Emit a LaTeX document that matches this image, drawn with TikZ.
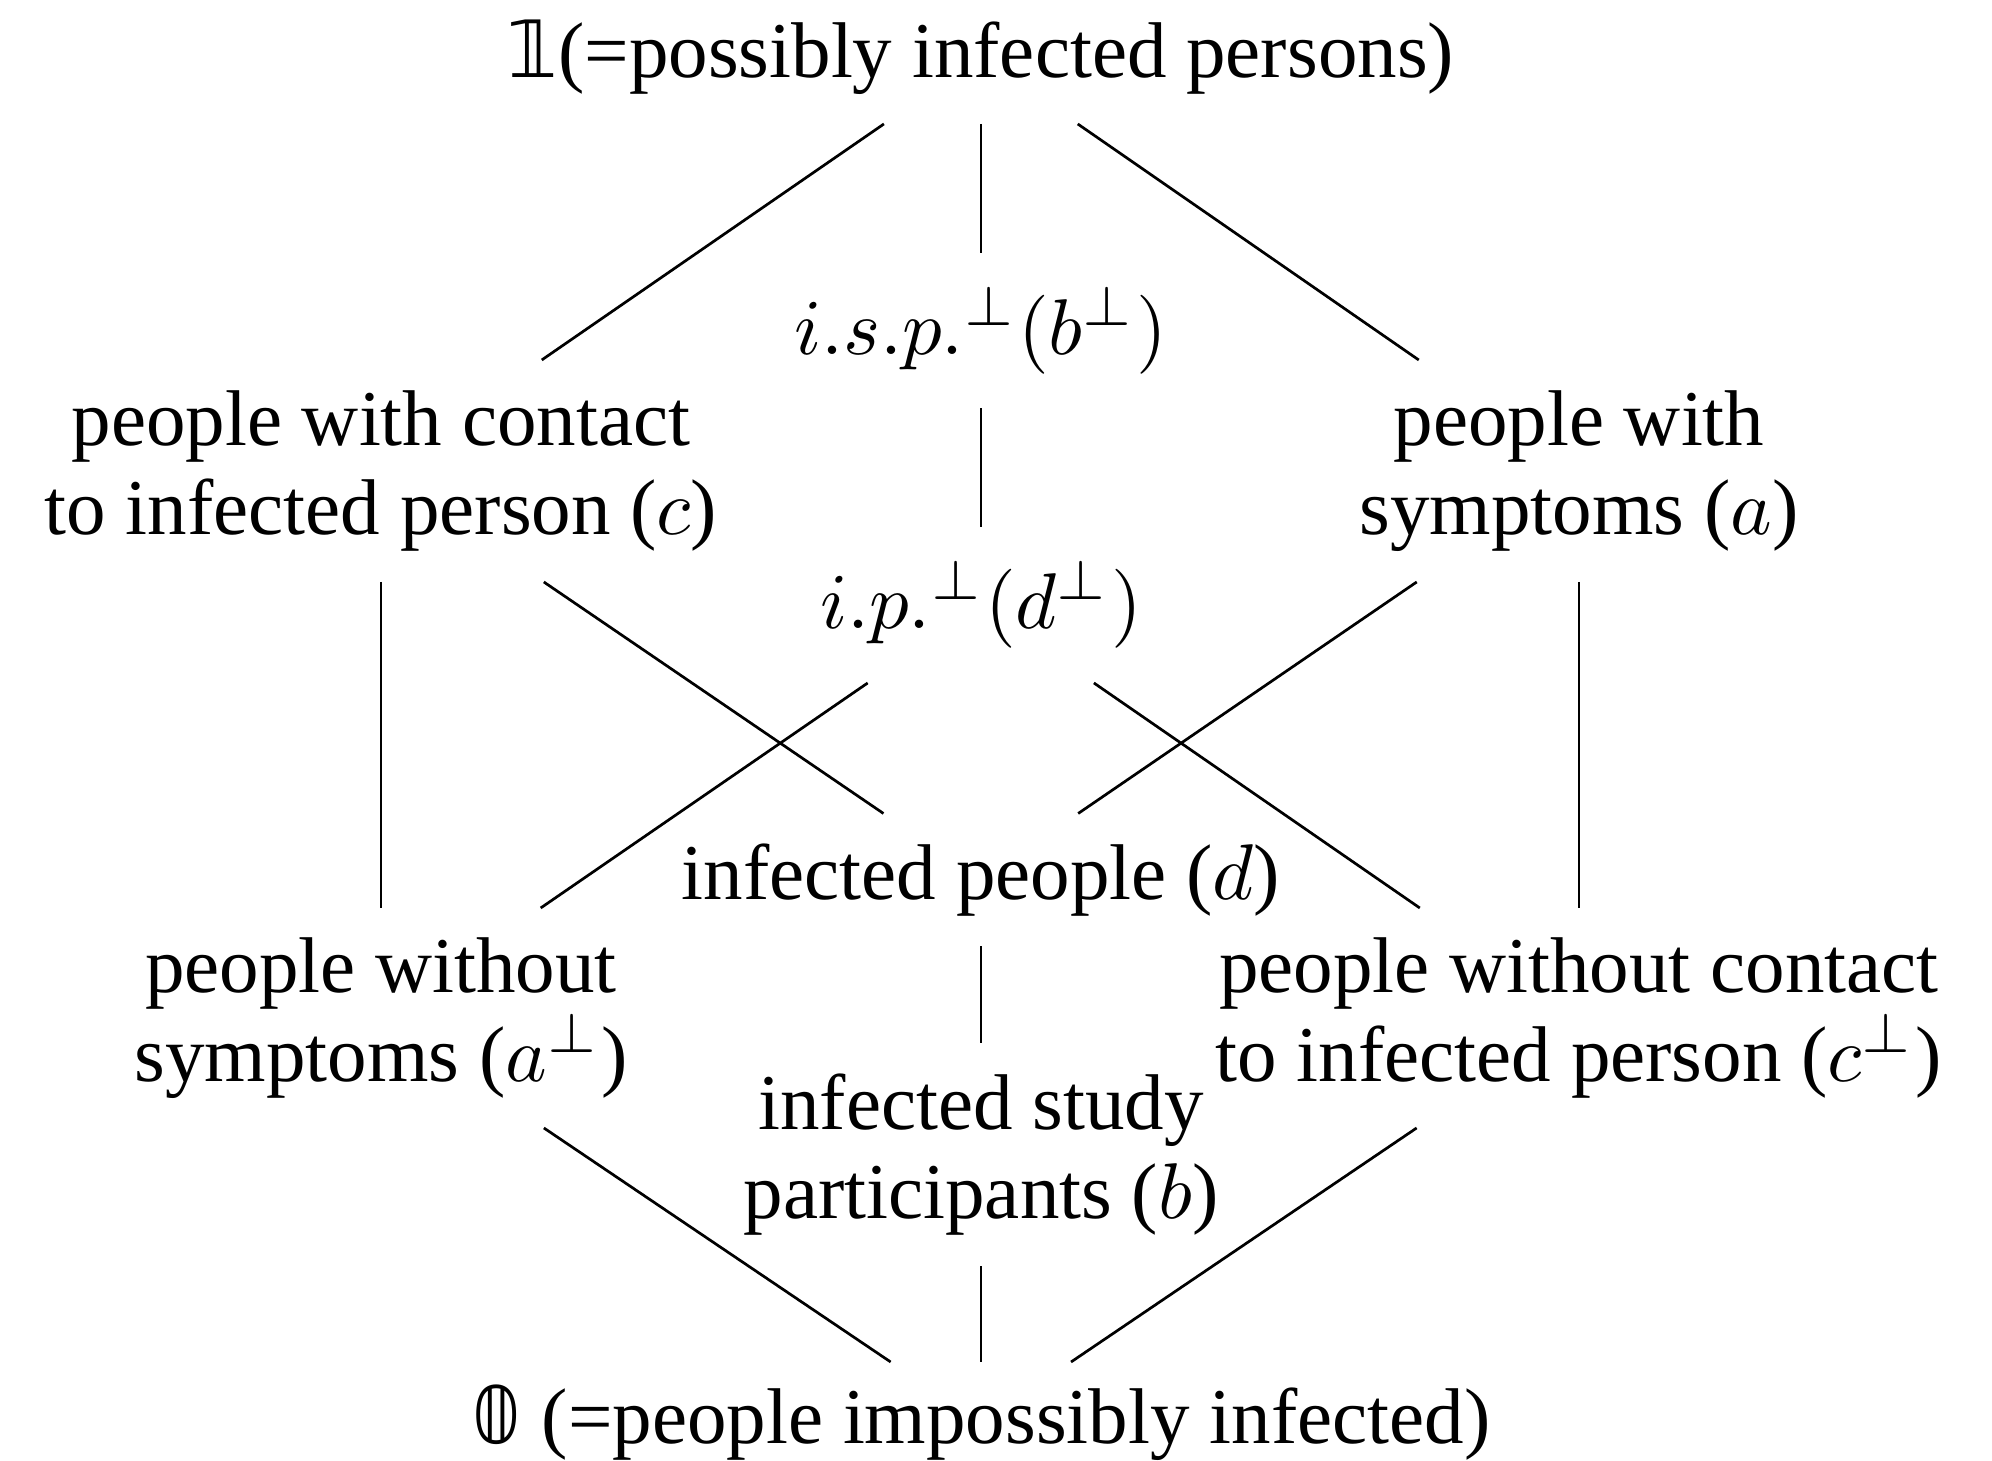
\RequirePackage{fix-cm}
\documentclass[tikz,border=0pt]{standalone}
\usepackage[no-math]{fontspec}
\setmainfont{Liberation Serif}
\newfontfamily\dsfamily{DejaVu Sans}
% formulas use the 10pt and 7pt Computer Modern designs, scaled
\DeclareFontShape{OML}{cmm}{m}{it}{<-6.5> cmmi7 <6.5-> cmmi10}{}
\DeclareFontShape{OMS}{cmsy}{m}{n}{<-6.5> cmsy7 <6.5-> cmsy10}{}
\DeclareFontShape{OT1}{cmr}{m}{n}{<-6.5> cmr7 <6.5-> cmr10}{}
\DeclareMathSizes{7.9}{7.9}{5.5}{4.4}
\newcommand\lblfont{\fontsize{7.9}{8.9}\selectfont}
\begin{document}
\begin{tikzpicture}[x=0.1pt,y=-0.1pt,
    lbl/.style={inner sep=0pt, outer sep=0pt, align=center, font=\lblfont},
    edge/.style={line width=0.27pt}]
  \useasboundingbox (0,0) rectangle (1992,1461);
  % lattice elements
  \node[lbl, minimum height=13.4pt] (one)  at (981,57)   {{\dsfamily 𝟙}(=possibly infected persons)};
  \node[lbl, minimum height=15.5pt] (isp)  at (981,331)  {$i.s.p.^{\perp}(b^{\perp})$};
  \node[lbl, minimum height=22.2pt] (c)    at (381,471)  {people with contact\\to infected person ($c$)};
  \node[lbl, minimum height=22.2pt] (a)    at (1579,471) {people with\\symptoms ($a$)};
  \node[lbl, minimum height=15.6pt] (ip)   at (981,605)  {$i.p.^{\perp}(d^{\perp})$};
  \node[lbl, minimum height=13.3pt] (d)    at (981,880)  {infected people ($d$)};
  \node[lbl, minimum height=22.0pt] (na)   at (381,1018) {people without\\symptoms ($a^{\perp}$)};
  \node[lbl, minimum height=22.0pt] (nc)   at (1579,1018) {people without contact\\to infected person ($c^{\perp}$)};
  \node[lbl, minimum height=22.3pt] (b)    at (981,1155) {infected study\\participants ($b$)};
  \node[lbl, minimum height=12.2pt] (zero) at (981,1423) {{\dsfamily 𝟘} (=people impossibly infected)};
  % order relations
  \draw[edge] (one) -- (c);
  \draw[edge] (one) -- (isp);
  \draw[edge] (one) -- (a);
  \draw[edge] (isp) -- (ip);
  \draw[edge] (c) -- (na);
  \draw[edge] (c) -- (d);
  \draw[edge] (a) -- (nc);
  \draw[edge] (a) -- (d);
  \draw[edge] (ip) -- (na);
  \draw[edge] (ip) -- (nc);
  \draw[edge] (d) -- (b);
  \draw[edge] (na) -- (zero);
  \draw[edge] (nc) -- (zero);
  \draw[edge] (b) -- (zero);
\end{tikzpicture}
\end{document}
